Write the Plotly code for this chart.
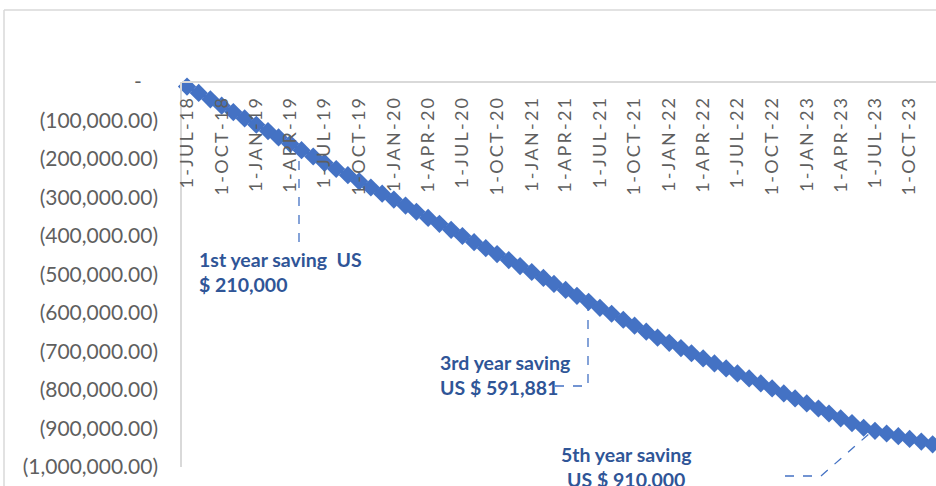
import plotly.graph_objects as go
import pandas as pd

# ---- data ----
months = pd.date_range("2018-07-01", periods=67, freq="MS").strftime("%Y-%m-%d").tolist()
savings = [
    -12000, -28500, -45000, -61500, -78000, -94500, -111000, -127500, -144000, -160500,
    -177000, -193500, -210000, -226000, -242000, -258000, -274000, -290000, -305500, -321000,
    -337000, -353000, -368500, -384000, -400000, -416000, -431500, -447000, -462500, -478000,
    -493500, -509000, -524500, -540000, -555500, -571000, -586500, -602000, -617500, -633000,
    -648500, -664000, -677500, -691000, -704500, -718000, -731000, -744000, -757000, -770000,
    -783000, -796000, -809000, -822000, -835000, -848000, -861000, -873500, -886000, -898000,
    -906000, -913000, -920000, -927000, -934000, -941000, -948000,
]
x_tick_dates = pd.date_range("2018-07-01", "2023-10-01", freq="3MS").strftime("%Y-%m-%d").tolist()
x_tick_labels = [f"1-{pd.Timestamp(d).strftime('%b').upper()}-{pd.Timestamp(d).strftime('%y')}" for d in x_tick_dates]
y_tick_vals = [0, -100000, -200000, -300000, -400000, -500000, -600000, -700000, -800000, -900000, -1000000]
y_tick_labels = ["-" + "\u00a0" * 3] + [f"({abs(v):,.2f})" for v in y_tick_vals[1:]]

notes = [
    "1st year saving\u00a0\u00a0US<br>$ 210,000",
    "3rd year saving<br>US $ 591,881",
    "5th year saving<br>US $ 910,000",
]

# ---- layout geometry (pixels) ----
W, H = 936, 486
L, R, T, B = 182, 0, 82, 19
PW, PH = W - L - R, H - T - B


def px(xp):
    return (xp - L) / PW


def py(yp):
    return (H - B - yp) / PH


spaced = ["\u2009".join(list(s)) for s in x_tick_labels]

fig = go.Figure()
fig.add_trace(go.Scatter(
    x=months, y=savings, mode="lines+markers",
    line=dict(color="#4472C4", width=3),
    marker=dict(symbol="diamond", size=14, color="#4472C4"),
    cliponaxis=False, showlegend=False, hoverinfo="skip",
))

blue = "#2F5597"
note_font = dict(family="Lato", size=19.5, color=blue, weight="bold")
fig.update_layout(
    width=W, height=H,
    margin=dict(l=L, r=R, t=T, b=B),
    paper_bgcolor="white", plot_bgcolor="white",
    font=dict(family="Lato", color="#595959"),
    xaxis=dict(
        type="date", range=["2018-06-17 17:00", "2023-12-10"],
        anchor="free", position=1, side="bottom",
        tickvals=x_tick_dates, ticktext=spaced, tickangle=-90,
        tickfont=dict(size=18, color="#5F5F5F"),
        showgrid=False, zeroline=False, showline=True, linecolor="#D9D9D9", linewidth=1.5,
        ticks="", ticklabelstandoff=8, fixedrange=True,
    ),
    yaxis=dict(
        range=[-1000000, 0], tickvals=y_tick_vals, ticktext=y_tick_labels,
        tickfont=dict(size=21, color="#5F5F5F"),
        showgrid=False, zeroline=False, showline=True, linecolor="#D9D9D9", linewidth=1.5,
        ticks="", ticklabelstandoff=18, fixedrange=True,
    ),
    annotations=[
        dict(xref="paper", yref="paper", x=px(197), y=py(272), text=notes[0], align="left",
             xanchor="left", yanchor="middle", showarrow=False, font=note_font),
        dict(xref="paper", yref="paper", x=px(438), y=py(375), text=notes[1], align="left",
             xanchor="left", yanchor="middle", showarrow=False, font=note_font),
        dict(xref="paper", yref="paper", x=px(626), y=py(467), text=notes[2], align="center",
             xanchor="center", yanchor="middle", showarrow=False, font=note_font),
    ],
    shapes=[
        # chart-area border (top and left)
        dict(type="line", xref="paper", yref="paper", x0=px(4), x1=px(940), y0=py(10), y1=py(10),
             line=dict(color="#D9D9D9", width=1.5)),
        dict(type="line", xref="paper", yref="paper", x0=px(4), x1=px(4), y0=py(10), y1=py(490),
             line=dict(color="#D9D9D9", width=1.5)),
        # connectors
        dict(type="line", xref="paper", yref="paper", x0=px(299), x1=px(299), y0=py(242), y1=py(160),
             line=dict(color="#4472C4", width=1.3, dash="dash")),
        dict(type="path", xref="paper", yref="paper",
             path=f"M {px(555)} {py(386)} L {px(588)} {py(386)} L {px(588)} {py(309)}",
             line=dict(color="#4472C4", width=1.3, dash="dash")),
        dict(type="path", xref="paper", yref="paper",
             path=f"M {px(785)} {py(476)} L {px(821)} {py(476)} L {px(870)} {py(433)}",
             line=dict(color="#4472C4", width=1.3, dash="dash")),
    ],
)

fig.write_html(
    "out.html",
    config={"displayModeBar": False},
    post_script="document.body.style.margin='0';document.body.style.overflow='hidden';",
)
